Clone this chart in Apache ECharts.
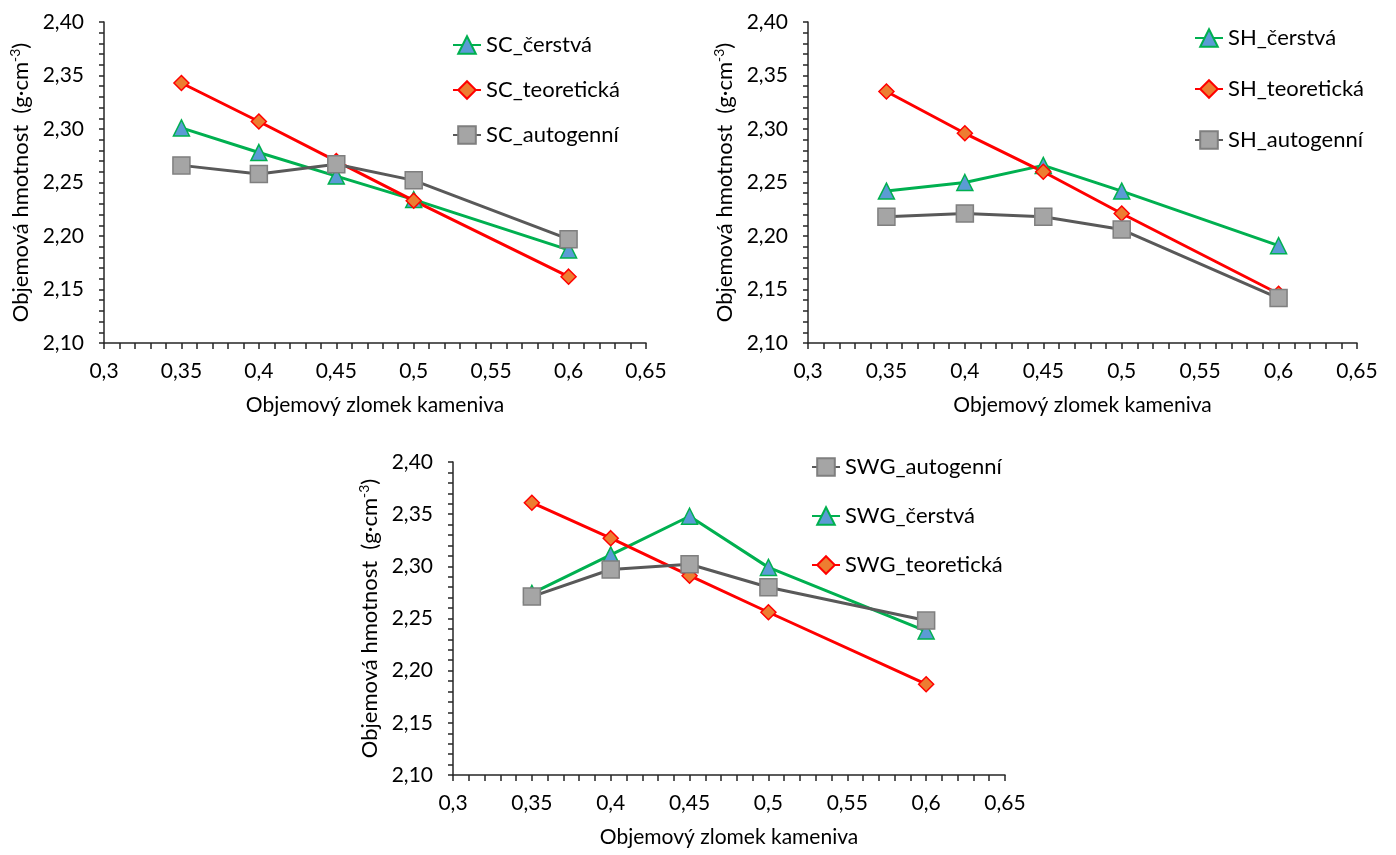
<!DOCTYPE html>
<html>
<head>
<meta charset="utf-8">
<script src="https://cdn.jsdelivr.net/npm/echarts@6/dist/echarts.min.js"></script>
<style>
  html, body { margin: 0; padding: 0; background: #fff; }
  #chart { width: 1396px; height: 855px; }
</style>
</head>
<body>
<div id="chart"></div>
<script>
// x values shared by all three panels
const fractions = [0.35, 0.4, 0.45, 0.5, 0.6]

// SC panel
const scFresh = [2.301, 2.278, 2.256, 2.234, 2.187]
const scTheory = [2.343, 2.307, 2.270, 2.233, 2.162]
const scAuto = [2.266, 2.258, 2.267, 2.252, 2.197]

// SH panel
const shFresh = [2.242, 2.250, 2.266, 2.242, 2.191]
const shTheory = [2.335, 2.296, 2.260, 2.221, 2.146]
const shAuto = [2.218, 2.221, 2.218, 2.206, 2.142]

// SWG panel
const swgAuto = [2.271, 2.297, 2.302, 2.280, 2.248]
const swgFresh = [2.274, 2.311, 2.348, 2.299, 2.238]
const swgTheory = [2.361, 2.327, 2.291, 2.256, 2.187]

const xTitle = 'Objemový zlomek kameniva'
const yTitle = 'Objemová hmotnost  (g·cm{sup|-3})'

const font = 'Lato, Open Sans, sans-serif'
const axisColor = '#262626'

const styles = {
  fresh: { line: '#00b050', fill: '#5b9bd5', border: '#00b050', symbol: 'triangle', size: 16 },
  theory: { line: '#ff0000', fill: '#ed7d31', border: '#ff0000', symbol: 'diamond', size: 15 },
  auto: { line: '#595959', fill: '#a5a5a5', border: '#7f7f7f', symbol: 'rect', size: 17 }
}

const grids = [
  { left: 104, top: 22, width: 542, height: 321 },
  { left: 808, top: 22, width: 549, height: 321 },
  { left: 453, top: 462, width: 552, height: 313 }
]

function xAxisFor(idx) {
  return {
    gridIndex: idx,
    type: 'value',
    min: 0.3,
    max: 0.65,
    interval: 0.05,
    name: xTitle,
    nameLocation: 'middle',
    nameGap: 52,
    nameTextStyle: { fontFamily: font, fontSize: 21, color: '#000' },
    axisLine: { show: true, lineStyle: { color: axisColor, width: 1.5 } },
    axisTick: { show: true, length: 6, lineStyle: { color: axisColor, width: 1.5 } },
    minorTick: { show: true, splitNumber: 5, length: 6, lineStyle: { color: axisColor, width: 1.5 } },
    splitLine: { show: false },
    axisLabel: {
      fontFamily: font, fontSize: 21, color: '#000', margin: 18,
      formatter: v => String(Math.round(v * 100) / 100).replace('.', ',')
    }
  }
}

function yAxisFor(idx) {
  return {
    gridIndex: idx,
    type: 'value',
    min: 2.1,
    max: 2.4,
    interval: 0.05,
    name: yTitle,
    nameLocation: 'middle',
    nameGap: 70,
    nameRotate: 90,
    nameTextStyle: {
      fontFamily: font, fontSize: 22, color: '#000',
      rich: { sup: { fontFamily: font, fontSize: 14, color: '#000', padding: [0, 0, 12, 0] } }
    },
    axisLine: { show: true, lineStyle: { color: axisColor, width: 1.5 } },
    axisTick: { show: true, length: 5, lineStyle: { color: axisColor, width: 1.5 } },
    minorTick: { show: true, splitNumber: 5, length: 5, lineStyle: { color: axisColor, width: 1.5 } },
    splitLine: { show: false },
    axisLabel: {
      fontFamily: font, fontSize: 21, color: '#000', margin: 20,
      formatter: v => v.toFixed(2).replace('.', ',')
    }
  }
}

function makeSeries(name, kind, values, idx) {
  const s = styles[kind]
  return {
    name: name,
    type: 'line',
    xAxisIndex: idx,
    yAxisIndex: idx,
    data: fractions.map((x, i) => [x, values[i]]),
    symbol: s.symbol,
    symbolSize: s.size,
    lineStyle: { color: s.line, width: 3 },
    itemStyle: { color: s.fill, borderColor: s.border, borderWidth: 1.5 },
    emphasis: { disabled: true },
    z: kind === 'auto' ? 3 : 2
  }
}

const legendBase = {
  orient: 'vertical',
  itemWidth: 28,
  itemHeight: 22,
  textStyle: { fontFamily: font, fontSize: 22, color: '#000' },
  selectedMode: false
}

const chart = echarts.init(document.getElementById('chart'))

chart.setOption({
  animation: false,
  backgroundColor: '#fff',
  grid: grids,
  xAxis: [xAxisFor(0), xAxisFor(1), xAxisFor(2)],
  yAxis: [yAxisFor(0), yAxisFor(1), yAxisFor(2)],
  legend: [
    Object.assign({}, legendBase, { left: 447, top: 29, itemGap: 23, data: ['SC_čerstvá', 'SC_teoretická', 'SC_autogenní'] }),
    Object.assign({}, legendBase, { left: 1189, top: 22, itemGap: 29, data: ['SH_čerstvá', 'SH_teoretická', 'SH_autogenní'] }),
    Object.assign({}, legendBase, { left: 806, top: 451, itemGap: 27, data: ['SWG_autogenní', 'SWG_čerstvá', 'SWG_teoretická'] })
  ],
  series: [
    makeSeries('SC_čerstvá', 'fresh', scFresh, 0),
    makeSeries('SC_teoretická', 'theory', scTheory, 0),
    makeSeries('SC_autogenní', 'auto', scAuto, 0),
    makeSeries('SH_čerstvá', 'fresh', shFresh, 1),
    makeSeries('SH_teoretická', 'theory', shTheory, 1),
    makeSeries('SH_autogenní', 'auto', shAuto, 1),
    makeSeries('SWG_autogenní', 'auto', swgAuto, 2),
    makeSeries('SWG_čerstvá', 'fresh', swgFresh, 2),
    makeSeries('SWG_teoretická', 'theory', swgTheory, 2)
  ]
})

window.addEventListener('resize', () => chart.resize())
</script>
</body>
</html>
